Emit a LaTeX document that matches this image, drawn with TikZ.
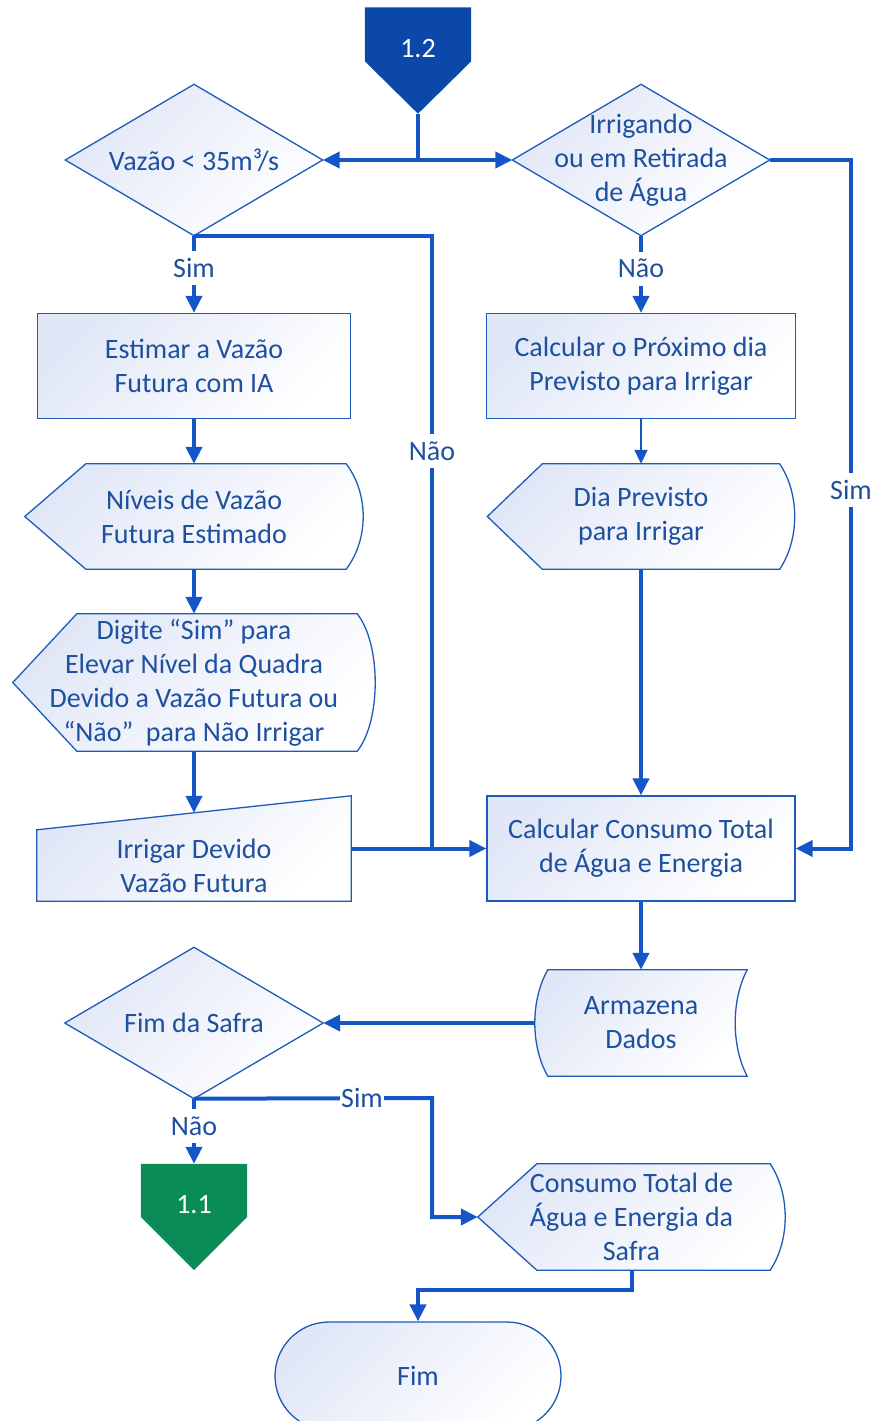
\documentclass[tikz,border=0pt]{standalone}
\usepackage{fontspec}
\setmainfont{Carlito}
\usetikzlibrary{shapes.misc,arrows.meta,calc,backgrounds}

\definecolor{lineblue}{RGB}{20,86,200}
\definecolor{edgeblue}{RGB}{30,90,185}
\definecolor{textblue}{RGB}{30,80,160}
\definecolor{shadeblue}{RGB}{225,231,247}
\definecolor{refblue}{RGB}{12,72,168}
\definecolor{refgreen}{RGB}{10,140,86}

% outlines of the special shapes, drawn behind the named nodes
\newcommand\decisionpath[1]{\path[shapefill] (#1.west) -- (#1.north) -- (#1.east) -- (#1.south) -- cycle;}
\newcommand\displaypath[3]{\path[shapefill] (#1.west) -- ($(#1.north west)+(#2,0)$) -- ($(#1.north east)+(-#3,0)$)
  .. controls ($(#1.north east)+(#3/3,30)$) and ($(#1.south east)+(#3/3,-30)$) .. ($(#1.south east)+(-#3,0)$)
  -- ($(#1.south west)+(#2,0)$) -- cycle;}
\newcommand\storedpath[3]{\path[shapefill] ($(#1.north west)+(#2,0)$) -- (#1.north east)
  .. controls ($(#1.north east)+(-4*#3/3,30)$) and ($(#1.south east)+(-4*#3/3,-30)$) .. (#1.south east)
  -- ($(#1.south west)+(#2,0)$)
  .. controls ($(#1.south west)+(-#2/3,-30)$) and ($(#1.north west)+(-#2/3,30)$) .. ($(#1.north west)+(#2,0)$) -- cycle;}
\newcommand\manualpath[2]{\path[shapefill] (#1.north east) -- ($(#1.north west)+(0,#2)$) -- (#1.south west) -- (#1.south east) -- cycle;}
\newcommand\offpagepath[3]{\path[fill=#3] (#1.north west) -- (#1.north east) -- ($(#1.north east)+(0,#2)$) -- (#1.south) -- ($(#1.north west)+(0,#2)$) -- cycle;}

\begin{document}
\begin{tikzpicture}[
    x=1pt, y=-1pt,
    txt/.style={font=\fontsize{28}{34}\selectfont, text=textblue, align=center, inner sep=0pt},
    shapefill/.style={draw=edgeblue, line width=1.3pt, top color=shadeblue, bottom color=white, shading angle=45},
    process/.style={txt, rectangle, shapefill, minimum width=309pt, minimum height=105pt},
    decision/.style={txt, minimum width=257pt, minimum height=151pt},
    display/.style={txt, minimum height=105pt},
    offpage/.style={font=\fontsize{28}{34}\selectfont, text=white, minimum width=106pt, minimum height=106pt},
    terminal/.style={txt, rounded rectangle, shapefill, minimum width=286pt, minimum height=108pt},
    conn/.style={draw=lineblue, line width=4pt},
    arrow/.style={conn, -{Triangle[length=17pt,width=16pt]}},
    thinarrow/.style={draw=lineblue, line width=2pt, -{Triangle[length=14pt,width=13pt]}},
    lbl/.style={font=\fontsize{28}{34}\selectfont, text=textblue, fill=white, inner xsep=1pt, inner ysep=8pt, text height=18pt, text depth=0pt}
]
\useasboundingbox (0,0) rectangle (872,1421);

% Define nodes, left column and right column
\node[offpage] (c12) at (418,60.5) {\raisebox{12pt}[\height][\depth]{1.2}};
\node[decision] (vazao) at (194,160) {Vazão < 35m³/s};
\node[decision] (irrig) at (641,160) {\raisebox{-1pt}[\height][\depth]{\begin{tabular}{@{}c@{}}Irrigando\\ou em Retirada\\de Água\end{tabular}}};
\node[process, minimum width=313pt] (estimar) at (194,366) {Estimar a Vazão\\Futura com IA};
\node[process] (calcdia) at (641,366) {Calcular o Próximo dia\\Previsto para Irrigar};
\node[display, minimum width=338pt] (niveis) at (194,516.5) {Níveis de Vazão\\Futura Estimado};
\node[display, minimum width=307pt] (dia) at (641,516.5) {Dia Previsto\\para Irrigar};
\node[display, minimum width=362pt, minimum height=137pt] (digite) at (194,682.5) {Digite “Sim” para\\Elevar Nível da Quadra\\Devido a Vazão Futura ou\\“Não”\ \ para Não Irrigar};
\node[txt, minimum width=314pt, minimum height=105pt] (irrigar) at (194,848.5)
    {\raisebox{-20pt}[\height][\depth]{\begin{tabular}{@{}c@{}}Irrigar Devido\\Vazão Futura\end{tabular}}};
\node[process, minimum width=308pt] (consumo) at (641,848.5) {Calcular Consumo Total\\de Água e Energia};
\node[txt, minimum width=212pt, minimum height=106pt] (armazena) at (641,1023) {Armazena\\Dados};
\node[decision, minimum width=258pt] (safra) at (194,1023) {Fim da Safra};
\node[offpage] (c11) at (194,1217) {\raisebox{12pt}[\height][\depth]{1.1}};
\node[display, minimum width=307pt, minimum height=106pt] (total) at (631.5,1217) {Consumo Total de\\Água e Energia da\\Safra};
\node[terminal] (fim) at (418,1376) {Fim};

% bend points of the connectors
\coordinate (split) at (418,160);
\coordinate (join) at (432,848.5);
\coordinate (rgt) at (851,160);
\coordinate (sbend) at (432,1098);

% Shapes behind the nodes
\begin{scope}[on background layer]
\offpagepath{c12}{54}{refblue}
\decisionpath{vazao}
\decisionpath{irrig}
\displaypath{niveis}{61}{17}
\displaypath{dia}{55}{15}
\displaypath{digite}{64}{18}
\manualpath{irrigar}{34}
\storedpath{armazena}{13}{12}
\decisionpath{safra}
\offpagepath{c11}{53}{refgreen}
\displaypath{total}{59}{15}
\end{scope}

% Draw arrows
\draw[conn] (c12.south) -- (split);
\draw[arrow] (split) -- (vazao.east);
\draw[arrow] (split) -- (irrig.west);
\draw[arrow] (vazao.south) -- node[lbl, pos=0.42] {Sim} (estimar.north);
\draw[conn] (vazao.south) -| node[lbl, pos=0.676] {Não} (join);
\draw[arrow] (estimar) -- (niveis);
\draw[arrow] (niveis) -- (digite);
\draw[arrow] (digite.south) -- ([yshift=-17pt]irrigar.north);
\draw[arrow] (irrigar.east) -- (consumo.west);
\draw[arrow] (irrig.south) -- node[lbl, pos=0.43] {Não} (calcdia.north);
\draw[thinarrow] (calcdia) -- (dia);
\draw[arrow] (dia) -- (consumo);
\draw[arrow] (irrig.east) -- (rgt) |- node[lbl, pos=0.24] {Sim} (consumo.east);
\draw[arrow] (consumo) -- (armazena);
\draw[arrow] (armazena.west) -- (safra.east);
\draw[arrow] (safra.south) -- node[lbl, pos=0.42] {Não} (c11.north);
\draw[arrow] (safra.south) -- node[lbl, pos=0.706] {Sim} (sbend) |- (total.west);
\draw[arrow] (total.south) -- ++(0,20) -| (fim.north);

\end{tikzpicture}
\end{document}
